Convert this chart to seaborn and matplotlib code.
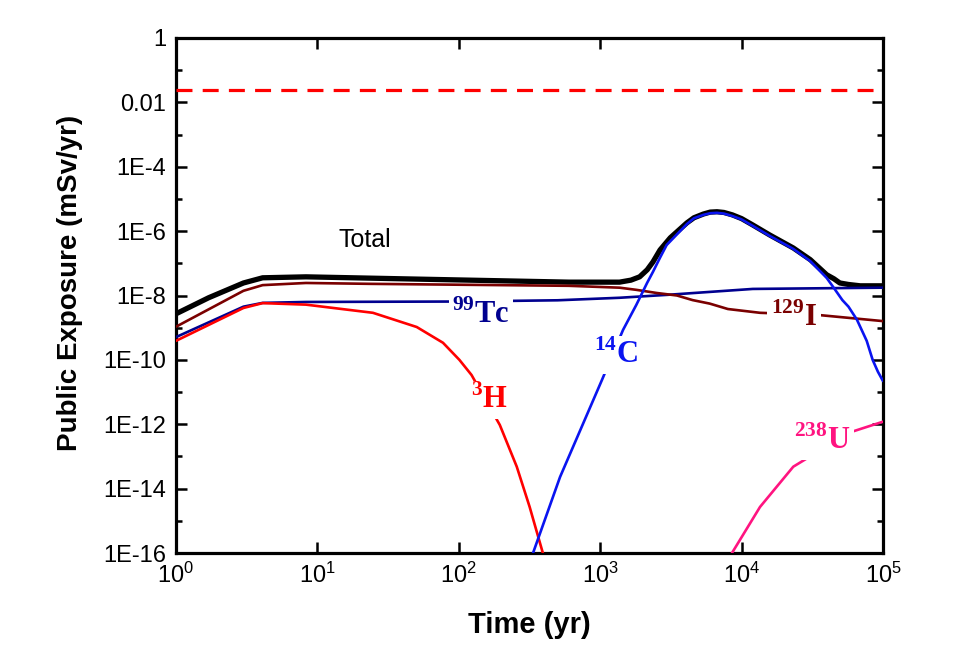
import numpy as np
import pandas as pd
import matplotlib
matplotlib.use("Agg")
import matplotlib.pyplot as plt
import seaborn as sns
from matplotlib.ticker import FixedLocator, NullLocator, FixedFormatter, NullFormatter

# ---------------- data ----------------
total_t = [1, 1.7, 3, 4.1, 8.3, 40, 600, 1370, 1650, 1900, 2150, 2360, 2650, 3130, 4100,
           4600, 5370, 6000, 6700, 7500, 8600, 10000, 12000, 15800, 23200, 30600, 40000,
           45000, 49500, 57000, 69000, 100000]
total_v = [2.7e-9, 8.5e-9, 2.45e-8, 3.55e-8, 3.8e-8, 3.3e-8, 2.6e-8, 2.6e-8, 3.0e-8,
           3.8e-8, 6.3e-8, 1.1e-7, 2.6e-7, 6.2e-7, 1.8e-6, 2.6e-6, 3.4e-6, 3.9e-6, 4.0e-6,
           3.8e-6, 3.2e-6, 2.45e-6, 1.55e-6, 7.6e-7, 3.0e-7, 1.3e-7, 4.4e-8, 3.3e-8,
           2.45e-8, 2.2e-8, 2.0e-8, 2.0e-8]

c14_t = [300, 335, 520, 1030, 1450, 1800, 2150, 2360, 2650, 2950, 4100, 4600, 5370, 6000,
         6700, 7500, 8600, 10000, 12000, 15800, 23200, 30600, 40000, 45000, 51600, 57000,
         65500, 76700, 84500, 92000, 100000]
c14_v = [3e-17, 1e-16, 2.3e-14, 2.4e-11, 8.5e-10, 5.1e-9, 2.5e-8, 5.4e-8, 1.5e-7, 3.7e-7,
         1.65e-6, 2.5e-6, 3.2e-6, 3.6e-6, 3.7e-6, 3.5e-6, 2.95e-6, 2.3e-6, 1.45e-6, 7.1e-7,
         2.8e-7, 1.17e-7, 3.5e-8, 1.7e-8, 7.2e-9, 4.5e-9, 1.75e-9, 3.9e-10, 1.0e-10,
         4.3e-11, 2.2e-11]

tc99_t = [1, 3, 4.1, 8.3, 100, 500, 1370, 3000, 12000, 100000]
tc99_v = [5.1e-10, 4.5e-9, 5.9e-9, 6.3e-9, 6.5e-9, 7.1e-9, 8.5e-9, 1.05e-8, 1.6e-8, 1.75e-8]

i129_t = [1, 3, 4.1, 8.3, 24, 600, 1370, 1800, 2500, 3490, 4500, 5950, 8000, 13500, 34300,
          100000]
i129_v = [1.07e-9, 1.4e-8, 2.1e-8, 2.45e-8, 2.3e-8, 2.0e-8, 1.75e-8, 1.5e-8, 1.2e-8,
          1.0e-8, 7.2e-9, 5.6e-9, 3.8e-9, 2.9e-9, 2.5e-9, 1.6e-9]

h3_t = [1, 3, 4.1, 8.3, 24.7, 50.4, 77.3, 101, 123, 195, 257, 317, 393, 450]
h3_v = [3.9e-10, 4.1e-9, 5.8e-9, 5.2e-9, 2.9e-9, 1.05e-9, 3.4e-10, 1.0e-10, 3.4e-11,
        9.5e-13, 4.8e-14, 2.7e-15, 1.0e-16, 3e-18]

u238_t = [7500, 8550, 13500, 23200, 57700, 100000]
u238_v = [2e-17, 1e-16, 2.7e-15, 4.8e-14, 5.5e-13, 1.2e-12]

limit_value = 0.025

y_tick_values = [1, 1e-2, 1e-4, 1e-6, 1e-8, 1e-10, 1e-12, 1e-14, 1e-16]
y_tick_labels = ["1", "0.01", "1E-4", "1E-6", "1E-8", "1E-10", "1E-12", "1E-14", "1E-16"]
y_minor_values = [1e-1, 1e-3, 1e-5, 1e-7, 1e-9, 1e-11, 1e-13, 1e-15]
x_tick_values = [1, 10, 100, 1000, 10000, 100000]
x_tick_exponents = [0, 1, 2, 3, 4, 5]

series_labels = [r"$^{\mathbf{99}}\mathbf{Tc}$", r"$^{\mathbf{14}}\mathbf{C}$",
                 r"$^{\mathbf{3}}\mathbf{H}$", r"$^{\mathbf{129}}\mathbf{I}$",
                 r"$^{\mathbf{238}}\mathbf{U}$"]

# ---------------- style ----------------
sns.set_style("ticks")
plt.rcParams["font.family"] = ["Liberation Sans", "DejaVu Sans"]
plt.rcParams["mathtext.fontset"] = "custom"
plt.rcParams["mathtext.sf"] = "Liberation Sans"
plt.rcParams["mathtext.rm"] = "Liberation Serif:bold"
plt.rcParams["mathtext.bf"] = "Liberation Serif:bold"
for k in ["text.color", "axes.labelcolor", "xtick.color", "ytick.color", "axes.edgecolor"]:
    plt.rcParams[k] = "black"

fig = plt.figure(figsize=(9.6, 6.5), dpi=100)
ax = fig.add_axes([176 / 960, 1 - 553 / 650, 707 / 960, 515 / 650])
ax.set_xscale("log")
ax.set_yscale("log")

c_tc, c_c, c_i, c_h, c_u = "#00008f", "#0a14f0", "#7a0000", "#ff0000", "#ff1480"

sns.lineplot(x=total_t, y=total_v, ax=ax, color="black", linewidth=3.8, zorder=2)
sns.lineplot(x=tc99_t, y=tc99_v, ax=ax, color=c_tc, linewidth=1.9, zorder=3)
sns.lineplot(x=i129_t, y=i129_v, ax=ax, color=c_i, linewidth=1.9, zorder=3)
sns.lineplot(x=h3_t, y=h3_v, ax=ax, color=c_h, linewidth=1.9, zorder=3)
sns.lineplot(x=c14_t, y=c14_v, ax=ax, color=c_c, linewidth=1.9, zorder=4)
sns.lineplot(x=u238_t, y=u238_v, ax=ax, color=c_u, linewidth=1.9, zorder=4)
ax.axhline(limit_value, color="#ff0000", linewidth=2.3, dashes=(5.0, 3.2), zorder=3)

ax.set_xlim(1, 1e5)
ax.set_ylim(1e-16, 1)

ax.yaxis.set_major_locator(FixedLocator(y_tick_values))
ax.yaxis.set_major_formatter(FixedFormatter(y_tick_labels))
ax.yaxis.set_minor_locator(FixedLocator(y_minor_values))
ax.yaxis.set_minor_formatter(NullFormatter())
ax.xaxis.set_major_locator(FixedLocator(x_tick_values))
ax.xaxis.set_major_formatter(FixedFormatter([r"$\mathsf{10^{%d}}$" % e for e in x_tick_exponents]))
ax.xaxis.set_minor_locator(NullLocator())

ax.tick_params(which="both", direction="in", top=True, right=True, color="black",
               width=1.8)
ax.tick_params(which="major", length=8, labelsize=17, pad=7)
ax.tick_params(which="minor", length=4.5)
for s in ax.spines.values():
    s.set_linewidth(2.3)
    s.set_color("black")

ax.set_xlabel("Time (yr)", fontsize=21, fontweight="bold")
ax.set_ylabel("Public Exposure (mSv/yr)", fontsize=20, fontweight="bold")
ax.xaxis.set_label_coords(0.5, -0.112)
ax.yaxis.set_label_coords(-0.132, 0.524)

def frac(px, py):
    return ((px - 176) / 707, (553 - py) / 515)

ax.text(*frac(365, 240), "Total", transform=ax.transAxes, fontsize=18,
        ha="center", va="center", color="black")
label_pos = [(481, 315), (616, 355), (490, 400), (794, 318), (822, 441)]
label_cols = [c_tc, c_c, c_h, c_i, c_u]
for lab, pos, col in zip(series_labels, label_pos, label_cols):
    ax.text(*frac(*pos), lab, transform=ax.transAxes, fontsize=22, ha="center",
            va="center", color=col, zorder=6,
            bbox=dict(boxstyle="square,pad=0.12", facecolor="white", edgecolor="none"))

fig.savefig("out.png", dpi=100)
